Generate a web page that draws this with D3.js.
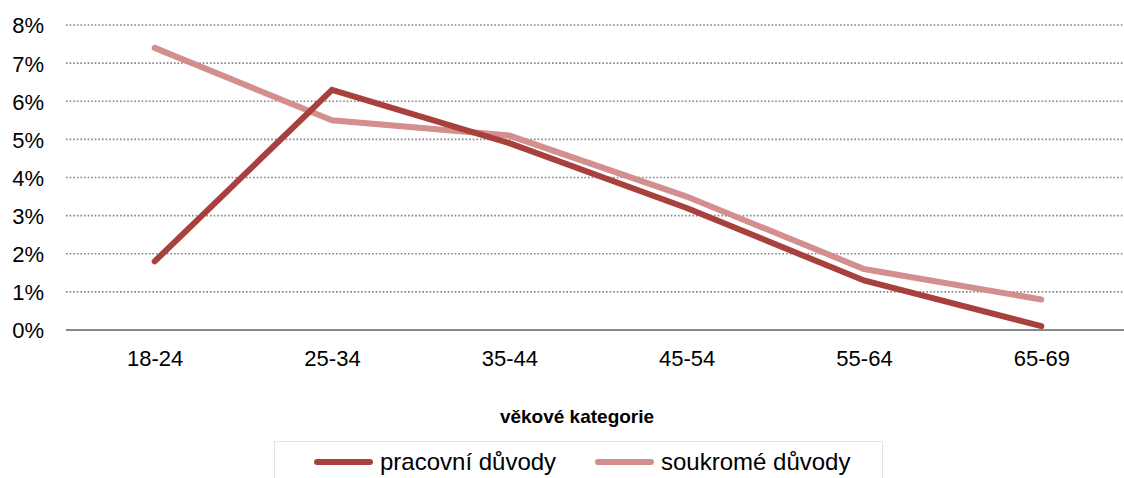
<!DOCTYPE html>
<html>
<head>
<meta charset="utf-8">
<script src="https://cdn.jsdelivr.net/npm/d3@7"></script>
<style>
  body { margin: 0; background: #fff; }
  text { font-family: "Liberation Sans", Arial, sans-serif; fill: #000; }
</style>
</head>
<body>
<svg id="chart" width="1124" height="478"></svg>
<script>
  // chart data
  var categories = ["18-24", "25-34", "35-44", "45-54", "55-64", "65-69"];
  var pracovni = [1.8, 6.3, 4.9, 3.2, 1.3, 0.1];
  var soukrome = [7.4, 5.5, 5.1, 3.5, 1.6, 0.8];
  var yTicks = [0, 1, 2, 3, 4, 5, 6, 7, 8];
  var seriesNames = ["pracovní důvody", "soukromé důvody"];
  var seriesColors = ["#a8413e", "#d38e8e"];

  var svg = d3.select("#chart");
  var m = { left: 66, right: 1130, top: 25, bottom: 330 };

  var x = d3.scalePoint().domain(categories).range([m.left, m.right]).padding(0.5);
  var y = d3.scaleLinear().domain([0, 8]).range([m.bottom, m.top]);

  // dotted gridlines
  svg.append("g").selectAll("line")
    .data(yTicks.filter(function(d) { return d > 0; }))
    .enter().append("line")
    .attr("x1", m.left).attr("x2", 1124)
    .attr("y1", function(d) { return y(d); })
    .attr("y2", function(d) { return y(d); })
    .attr("stroke", "#858585")
    .attr("stroke-width", 1.6)
    .attr("stroke-dasharray", "1.6,2");

  // y axis labels
  var yAxis = d3.axisLeft(y).tickValues(yTicks).tickSize(0).tickPadding(0)
    .tickFormat(function(d) { return d + "%"; });
  var yg = svg.append("g").attr("transform", "translate(44,0)").call(yAxis);
  yg.select(".domain").remove();
  yg.selectAll("text").style("font-size", "22px").attr("dy", "0.36em")
    .style("font-family", "'Liberation Sans', Arial, sans-serif").attr("fill", "#000");

  // x axis labels
  var xAxis = d3.axisBottom(x).tickSize(0).tickPadding(0);
  var xg = svg.append("g").attr("transform", "translate(0," + m.bottom + ")").call(xAxis);
  xg.select(".domain").remove();
  xg.selectAll("text").style("font-size", "22px").attr("y", 36).attr("dy", null)
    .style("font-family", "'Liberation Sans', Arial, sans-serif").attr("fill", "#000");

  // baseline
  svg.append("line")
    .attr("x1", m.left).attr("x2", 1124)
    .attr("y1", y(0)).attr("y2", y(0))
    .attr("stroke", "#888").attr("stroke-width", 2);

  // series lines
  var line = d3.line()
    .x(function(d, i) { return x(categories[i]); })
    .y(function(d) { return y(d); });

  [soukrome, pracovni].forEach(function(vals, k) {
    svg.append("path")
      .datum(vals)
      .attr("d", line)
      .attr("fill", "none")
      .attr("stroke", seriesColors[1 - k])
      .attr("stroke-width", 6)
      .attr("stroke-linecap", "round")
      .attr("stroke-linejoin", "miter");
  });

  // axis title
  svg.append("text")
    .attr("x", 577).attr("y", 423)
    .attr("text-anchor", "middle")
    .style("font-size", "19px").style("font-weight", "bold")
    .text("věkové kategorie");

  // legend
  svg.append("rect")
    .attr("x", 274.5).attr("y", 441.5)
    .attr("width", 608).attr("height", 50)
    .attr("fill", "none")
    .attr("stroke", "#c8c8c8")
    .attr("stroke-dasharray", "1,1");

  var legendX = [315, 596];
  var lg = svg.append("g").selectAll("g")
    .data(seriesNames)
    .enter().append("g")
    .attr("transform", function(d, i) { return "translate(" + legendX[i] + ",462)"; });
  lg.append("line")
    .attr("x1", 2).attr("x2", 55)
    .attr("stroke", function(d, i) { return seriesColors[i]; })
    .attr("stroke-width", 6)
    .attr("stroke-linecap", "round");
  lg.append("text")
    .attr("x", 65).attr("dy", "0.35em")
    .style("font-size", "24px")
    .text(function(d) { return d; });
</script>
</body>
</html>
